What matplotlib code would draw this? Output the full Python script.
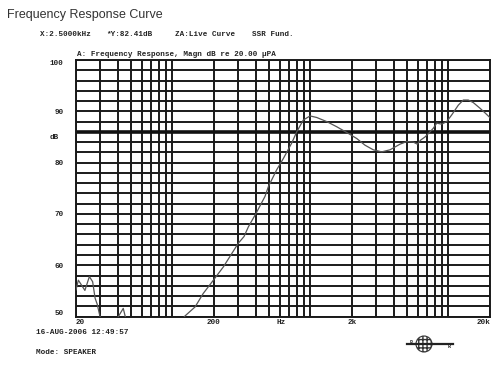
import numpy as np
import matplotlib
matplotlib.use("Agg")
import matplotlib.pyplot as plt
from matplotlib.patches import Circle

# measured response (Hz, dB SPL)
freq = [20, 20.8, 23.2, 25.0, 26.4, 27.5, 28.5, 29.8,
        31, 34, 38, 40.3, 44.0, 45.7,
        50, 70, 100, 123, 146, 167, 198, 234,
        300, 330, 355, 403, 468, 495, 569, 636,
        731, 795, 887, 993, 1110, 1311, 1549, 1880,
        2164, 2485, 2853, 3284, 3771, 4455, 4981, 5563,
        5947, 6293, 6762, 7350, 7766, 8222, 8934, 9714,
        10558, 11786, 12810, 13926, 15136, 16928, 18400, 19766,
        20000]
spl = [55.2, 57.1, 55.1, 57.8, 56.8, 53.6, 52.4, 50.1,
       48.8, 47.0, 48.0, 49.9, 51.6, 49.8,
       47.5, 45.0, 46.5, 50.1, 51.9, 54.5, 57.1, 59.7,
       64.3, 65.6, 67.5, 70.1, 73.4, 75.3, 78.6, 80.8,
       83.8, 86.0, 88.3, 89.1, 88.8, 88.0, 87.0, 85.7,
       84.7, 83.4, 82.5, 82.1, 82.5, 83.6, 84.1, 84.0,
       83.6, 84.4, 85.0, 86.0, 86.7, 87.7, 87.5, 88.0,
       89.3, 91.2, 92.2, 92.2, 91.7, 90.6, 89.7, 88.9,
       88.7]

x_grid = [20, 30, 40, 50, 60, 70, 80, 90, 100,
          200, 300, 400, 500, 600, 700, 800, 900, 1000,
          2000, 3000, 4000, 5000, 6000, 7000, 8000, 9000, 10000, 20000]
y_grid = list(range(50, 101, 2))
ref_level = 86

x_ticks = [20, 200, 612, 2000, 20000]
x_labels = ["20", "200", "Hz", "2k", "20k"]
y_ticks = [50, 60, 70, 80, 90, 100]

header = [("X:2.5000kHz", 40), ("*Y:82.41dB", 106), ("ZA:Live Curve", 175), ("SSR Fund.", 252)]

W, H = 500, 367
mono = dict(family="Liberation Mono", weight="bold", color="#222222")

fig = plt.figure(figsize=(5, 3.67), dpi=100)
ax = fig.add_axes([76 / W, 1 - 316.6 / H, 414 / W, 256.6 / H])

for g in x_grid:
    ax.axvline(g, color="#1a1a1a", linewidth=1.4, zorder=1)
for g in y_grid:
    ax.axhline(g, color="#1a1a1a", linewidth=1.4, zorder=1)
ax.axhline(ref_level, color="#111111", linewidth=2.6, zorder=1)

ax.plot(freq, spl, color="#555555", linewidth=0.9, zorder=3)

ax.set_xscale("log")
ax.set_xlim(20, 20000)
ax.set_ylim(50, 100)
ax.minorticks_off()
ax.set_xticks(x_ticks)
ax.set_xticklabels(x_labels, fontsize=5.5, **mono)
ax.set_yticks(y_ticks)
ax.set_yticklabels([str(v) for v in y_ticks], fontsize=5.5, **mono)
ax.tick_params(axis="x", length=0, pad=2)
ax.tick_params(axis="y", length=0, pad=9)
xl = ax.get_xticklabels()
xl[0].set_ha("left")
xl[-1].set_ha("right")
yl = ax.get_yticklabels()
yl[0].set_va("bottom")
yl[-1].set_va("top")
for s in ax.spines.values():
    s.set_color("#1a1a1a")
    s.set_linewidth(1.4)

fig.text(50 / W, 1 - 137.5 / H, "dB", fontsize=5.5, va="center", **mono)

fig.text(7 / W, 1 - 15 / H, "Frequency Response Curve", fontsize=9,
         family="Liberation Sans", color="#333333", va="center")
for txt, xp in header:
    fig.text(xp / W, 1 - 35 / H, txt, fontsize=5.5, va="center", **mono)
fig.text(77 / W, 1 - 55 / H, "A: Frequency Response, Magn dB re 20.00 \u00b5PA",
         fontsize=5.5, va="center", **mono)
fig.text(36 / W, 1 - 333 / H, "16-AUG-2006 12:49:57", fontsize=5.5, va="center", **mono)
fig.text(36 / W, 1 - 353 / H, "Mode: SPEAKER", fontsize=5.5, va="center", **mono)

# small globe logo
lg = fig.add_axes([405 / W, 1 - 355 / H, 50 / W, 22 / H])
lg.set_xlim(0, 50)
lg.set_ylim(0, 22)
lg.set_aspect("equal")
lg.axis("off")
lg.add_patch(Circle((19, 11), 8, facecolor="white", edgecolor="#333333",
                    hatch="++++", linewidth=0.8))
lg.plot([2, 48], [11, 11], color="#222222", linewidth=1.6)
lg.text(6, 12.5, "B", fontsize=3.5, ha="center", va="center", **mono)
lg.text(44, 9, "R", fontsize=3.5, ha="center", va="center", **mono)

fig.savefig("out.png", dpi=100, facecolor="white")
